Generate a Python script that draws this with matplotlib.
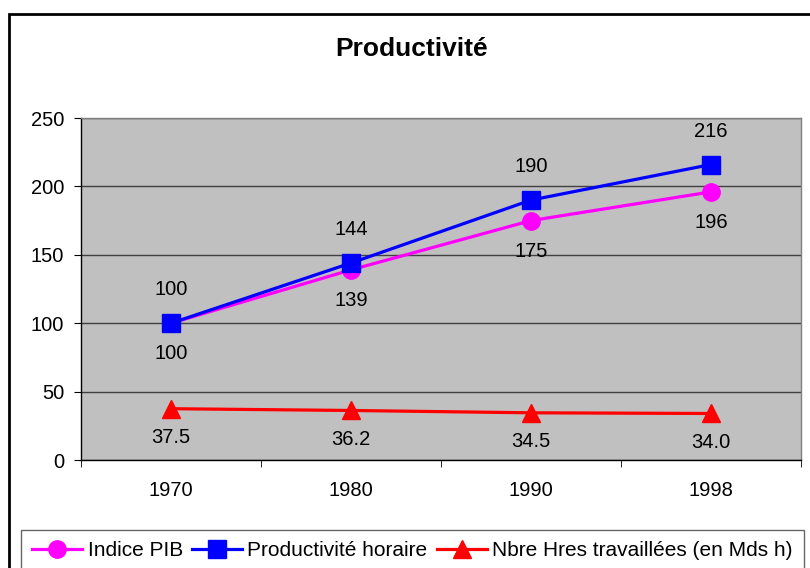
import matplotlib.pyplot as plt
from matplotlib.patches import Rectangle

plt.rcParams['font.family'] = ['Liberation Sans', 'DejaVu Sans']

years = ['1970', '1980', '1990', '1998']
pib = [100, 139, 175, 196]
productivite = [100, 144, 190, 216]
heures = [37.5, 36.2, 34.5, 34.0]
heures_labels = ['37.5', '36.2', '34.5', '34.0']

fig = plt.figure(figsize=(8.1, 5.68), dpi=100)
# plot area in pixels: x 81..801, y 118..460
ax = fig.add_axes([81 / 810, 1 - 460 / 568, 720 / 810, 342 / 568])

x = list(range(1, len(years) + 1))

ax.set_facecolor('#c0c0c0')
ax.set_xlim(0.5, 4.5)
ax.set_ylim(0, 250)
ax.set_yticks([0, 50, 100, 150, 200, 250])
ax.yaxis.grid(True, color='#404040', linewidth=1.0)
ax.set_axisbelow(True)

ax.plot(x, pib, color='#ff00ff', linewidth=2.3, marker='o', markersize=12.5,
        label='Indice PIB', zorder=3)
ax.plot(x, productivite, color='#0000ff', linewidth=2.3, marker='s', markersize=12.5,
        label='Productivité horaire', zorder=4)
ax.plot(x, heures, color='#ff0000', linewidth=2.3, marker='^', markersize=13,
        label='Nbre Hres travaillées (en Mds h)', zorder=3)

fs = 14.5
# data labels
for xi, v in zip(x, pib):
    ax.annotate(str(v), (xi, v), xytext=(0, -22), textcoords='offset points',
                ha='center', va='center', fontsize=fs)
for xi, v in zip(x, productivite):
    ax.annotate(str(v), (xi, v), xytext=(0, 24), textcoords='offset points',
                ha='center', va='center', fontsize=fs)
for xi, v, lab in zip(x, heures, heures_labels):
    ax.annotate(lab, (xi, v), xytext=(0, -21), textcoords='offset points',
                ha='center', va='center', fontsize=fs)

# category ticks: labels centred, marks between categories
ax.set_xticks(x)
ax.set_xticklabels(years, fontsize=fs)
ax.tick_params(axis='x', length=0, pad=15)
ax.set_xticks([0.5, 1.5, 2.5, 3.5, 4.5], minor=True)
ax.tick_params(axis='x', which='minor', length=5, direction='out', color='black')
ax.tick_params(axis='y', length=5, direction='out', labelsize=fs, pad=7)

for s in ['left', 'bottom']:
    ax.spines[s].set_color('black')
    ax.spines[s].set_linewidth(1.0)
for s in ['top', 'right']:
    ax.spines[s].set_color('#808080')
    ax.spines[s].set_linewidth(1.0)

fig.text(412 / 810, 1 - 49 / 568, 'Productivité', ha='center', va='center',
         fontsize=19, fontweight='bold')

# outer chart border
fig.patches.append(Rectangle((9 / 810, -0.05), 1.2, 1.05 - 14 / 568,
                             transform=fig.transFigure, fill=False,
                             edgecolor='black', linewidth=2.0))

leg = fig.legend(loc='upper left', bbox_to_anchor=(21 / 810, 1 - 530 / 568), ncol=3,
                 frameon=True, fancybox=False, edgecolor='#404040', fontsize=15,
                 handlelength=2.4, handletextpad=0.25, columnspacing=0.45,
                 borderpad=0.55, borderaxespad=0, markerscale=1.0)
leg.get_frame().set_linewidth(1.0)

plt.savefig('out.png', dpi=100)
